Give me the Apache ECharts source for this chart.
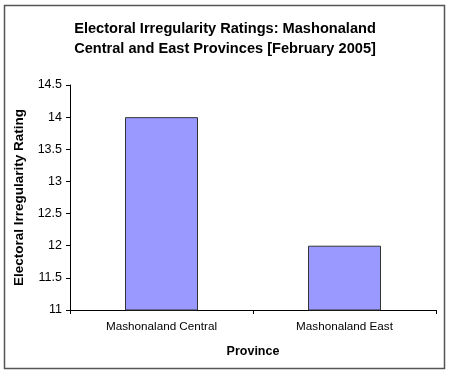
<!DOCTYPE html>
<html><head><meta charset="utf-8">
<script src="https://cdn.jsdelivr.net/npm/echarts@6/dist/echarts.min.js"></script>
<style>html,body{margin:0;padding:0;background:#fff}#c{width:450px;height:374px}</style>
</head><body><div id="c"></div>
<script>
const titleLines = ["Electoral Irregularity Ratings: Mashonaland", "Central and East Provinces [February 2005]"];
const categories = ["Mashonaland Central", "Mashonaland East"];
const values = [14, 12];
const yMin = 11, yMax = 14.5, yStep = 0.5;
const xName = "Province";
const yName = "Electoral Irregularity Rating";

const chart = echarts.init(document.getElementById('c'), null, {renderer: 'canvas'});
chart.setOption({
  animation: false,
  backgroundColor: '#fff',
  graphic: [{
    type: 'rect', shape: {x: 4.5, y: 5.5, width: 440, height: 363},
    style: {fill: 'none', stroke: '#555', lineWidth: 1.5}, silent: true, z: -1
  }],
  title: {
    text: titleLines.join('\n'), left: 'center', top: 14,
    textStyle: {fontFamily: 'Liberation Sans, Arial', fontSize: 14.6, fontWeight: 'bold', color: '#000', lineHeight: 20}
  },
  grid: {left: 70, right: 14, top: 85, bottom: 64, containLabel: false},
  xAxis: {
    type: 'category', data: categories,
    name: xName, nameLocation: 'middle', nameGap: 35,
    nameTextStyle: {fontFamily: 'Liberation Sans, Arial', fontSize: 12.5, fontWeight: 'bold', color: '#000'},
    axisLine: {lineStyle: {color: '#000', width: 1}},
    axisTick: {show: true, length: 4, lineStyle: {color: '#000'}},
    axisLabel: {fontFamily: 'Liberation Sans, Arial', fontSize: 11.7, color: '#000', margin: 11}
  },
  yAxis: {
    type: 'value', min: yMin, max: yMax, interval: yStep,
    name: yName, nameLocation: 'middle', nameGap: 41, nameRotate: 90,
    nameTextStyle: {fontFamily: 'Liberation Sans, Arial', fontSize: 13.5, fontWeight: 'bold', color: '#000'},
    axisLine: {show: true, lineStyle: {color: '#000', width: 1}},
    axisTick: {show: true, length: 4, lineStyle: {color: '#000'}},
    axisLabel: {fontFamily: 'Liberation Sans, Arial', fontSize: 12.5, color: '#000', margin: 8},
    splitLine: {show: false}
  },
  series: [{
    type: 'bar', data: values, barWidth: 73,
    itemStyle: {color: '#9999FF', borderColor: '#333', borderWidth: 1}
  }]
});
</script></body></html>
